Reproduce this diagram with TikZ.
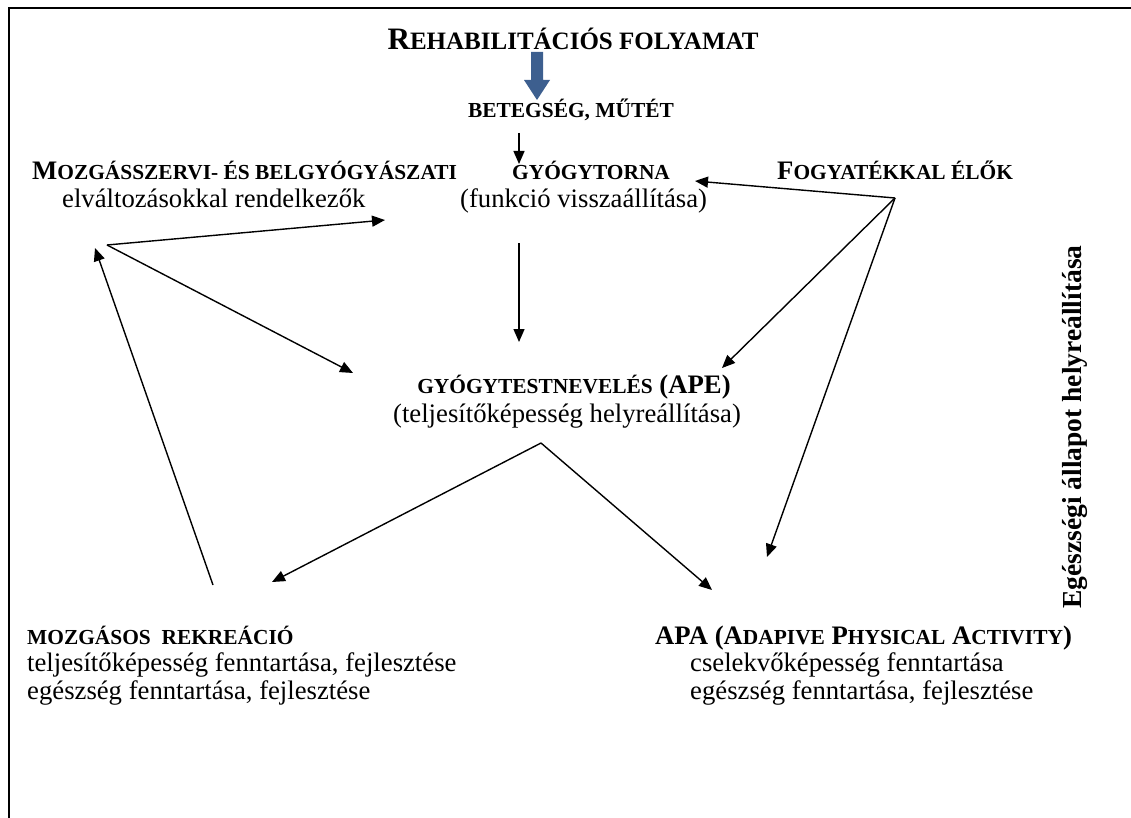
\documentclass[tikz,border=0pt]{standalone}
\usepackage{fontspec}
\setmainfont{Liberation Serif}
\usetikzlibrary{arrows.meta}
\definecolor{arrowblue}{HTML}{3D5F8F}
\newcommand{\bodyf}{\fontsize{26.7}{30}\selectfont}
\newcommand{\scf}{\fontsize{21.4}{24}\selectfont}
\newcommand{\sml}[1]{{\scf #1}}
\begin{document}
\begin{tikzpicture}[x=1pt,y=-1pt,
  txt/.style={inner sep=0pt, font=\bodyf, anchor=base west},
  hd/.style={inner sep=0pt, font=\bodyf\bfseries, anchor=base west},
  conn/.style={line width=1.4pt, -{Triangle[length=13pt,width=11pt]}}]
\useasboundingbox (0,0) rectangle (1131,818);
\draw[line width=1.6pt] (9,818) -- (9,8) -- (1131,8);

% title and blue arrow
\node[hd, anchor=base] (title) at (573,50) {\fontsize{31.2}{34}\selectfont R{\fontsize{25}{28}\selectfont EHABILITÁCIÓS FOLYAMAT}};
\fill[arrowblue] (531,52) -- (543,52) -- (543,80) -- (550,80) -- (537,100) -- (524,80) -- (531,80) -- cycle;
\node[hd, anchor=base] (beteg) at (571,118) {\sml{BETEGSÉG, MŰTÉT}};

% upper row
\node[hd] (mozg1) at (32,180) {M\sml{OZGÁSSZERVI- ÉS BELGYÓGYÁSZATI}};
\node[txt] (mozg2) at (62,208) {elváltozásokkal rendelkezők};
\node[hd] (gyt1) at (512,180) {\sml{GYÓGYTORNA}};
\node[txt] (gyt2) at (460,208) {(funkció visszaállítása)};
\node[hd] (fogy) at (777,180) {F\sml{OGYATÉKKAL ÉLŐK}};

% middle
\node[hd, anchor=base] (ape1) at (574,393) {\sml{GYÓGYTESTNEVELÉS} (APE)};
\node[txt, anchor=base] (ape2) at (567,422) {(teljesítőképesség helyreállítása)};

% bottom left
\node[hd] (rek1) at (27,644) {\sml{MOZGÁSOS\ \ REKREÁCIÓ}};
\node[txt] (rek2) at (27,671) {teljesítőképesség fenntartása, fejlesztése};
\node[txt] (rek3) at (27,699) {egészség fenntartása, fejlesztése};

% bottom right
\node[hd] (apa1) at (655,644) {APA (A\sml{DAPIVE} P\sml{HYSICAL} A\sml{CTIVITY})};
\node[txt] (apa2) at (690,671) {cselekvőképesség fenntartása};
\node[txt] (apa3) at (690,699) {egészség fenntartása, fejlesztése};

% side text
\node[hd, anchor=center, rotate=90, font=\fontsize{27.5}{30}\selectfont\bfseries] (side) at (1075,427) {Egészségi állapot helyreállítása};

% connector points
\coordinate (bA) at (519,133);
\coordinate (bB) at (519,164);
\coordinate (m0) at (107,245);
\coordinate (mT) at (385,220);
\coordinate (mA) at (353,373);
\coordinate (rS) at (213,585);
\coordinate (rT) at (95,248);
\coordinate (f0) at (895,198);
\coordinate (fT) at (695,181);
\coordinate (fA) at (722,368);
\coordinate (fP) at (767,557);
\coordinate (vS) at (519,243);
\coordinate (vT) at (519,342);
\coordinate (p0) at (541,443);
\coordinate (pL) at (272,582);
\coordinate (pR) at (712,590);

\draw[conn] (bA) -- (bB);
\draw[conn] (m0) -- (mT);
\draw[conn] (m0) -- (mA);
\draw[conn] (rS) -- (rT);
\draw[conn] (f0) -- (fT);
\draw[conn] (f0) -- (fA);
\draw[conn] (f0) -- (fP);
\draw[conn] (vS) -- (vT);
\draw[conn] (p0) -- (pL);
\draw[conn] (p0) -- (pR);
\end{tikzpicture}
\end{document}
